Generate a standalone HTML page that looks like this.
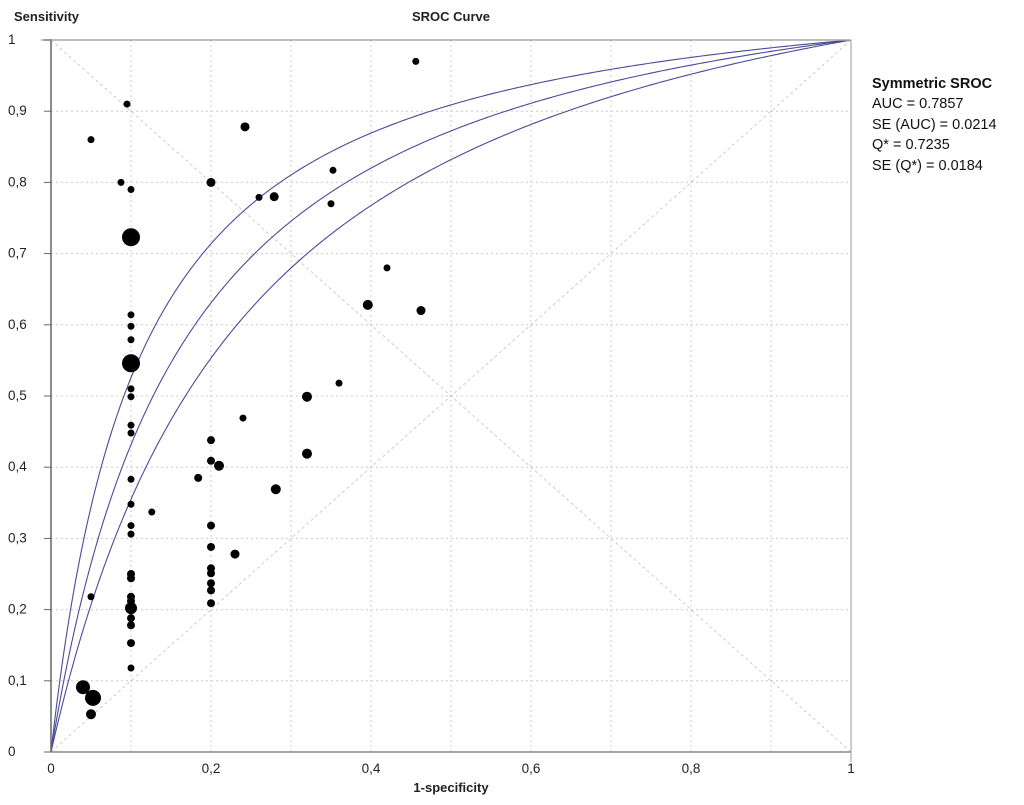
<!DOCTYPE html>
<html><head><meta charset="utf-8">
<style>
body{margin:0;background:#fff;width:1024px;height:805px;overflow:hidden;font-family:"Liberation Sans",Arial,sans-serif}
svg{display:block}
</style></head>
<body>
<svg id="chart" width="1024" height="805" xmlns="http://www.w3.org/2000/svg">
<text x="14" y="21" font-size="13" font-weight="bold" fill="#222">Sensitivity</text>
<text x="451" y="21" font-size="13" font-weight="bold" fill="#222" text-anchor="middle">SROC Curve</text>
<text x="451" y="792" font-size="13" font-weight="bold" fill="#222" text-anchor="middle">1-specificity</text>
<g font-family="'Liberation Sans',Calibri,sans-serif" font-size="14.5" fill="#111">
<text x="872" y="88" font-weight="bold">Symmetric SROC</text>
<text x="872" y="108">AUC = 0.7857</text>
<text x="872" y="129">SE (AUC) = 0.0214</text>
<text x="872" y="149">Q* = 0.7235</text>
<text x="872" y="170">SE (Q*) = 0.0184</text>
</g>
<g id="grid"></g>
<g id="curves"></g>
<g id="points"></g>
<g id="axes"></g>
</svg>
<script>
const xTicks=[0,0.2,0.4,0.6,0.8,1];
const xTickLabels=["0","0,2","0,4","0,6","0,8","1"];
const yTicks=[0,0.1,0.2,0.3,0.4,0.5,0.6,0.7,0.8,0.9,1];
const yTickLabels=["0","0,1","0,2","0,3","0,4","0,5","0,6","0,7","0,8","0,9","1"];
const curveA=[2.3,1.922,1.6];
const ptX=[0.095,0.05,0.0875,0.1,0.2,0.1,0.1,0.1,0.1,0.1,0.1,0.1,0.1,0.1,0.1,0.1,0.126,0.1,0.1,0.1,0.1,0.1,0.1,0.1,0.1,0.1,0.1,0.1,0.05,0.04,0.0525,0.05,0.2,0.2,0.21,0.184,0.24,0.281,0.2,0.2,0.23,0.2,0.2,0.2,0.2,0.2,0.456,0.2425,0.3525,0.26,0.279,0.35,0.42,0.396,0.4625,0.36,0.32,0.32];
const ptY=[0.91,0.86,0.80,0.79,0.80,0.723,0.614,0.598,0.579,0.546,0.51,0.499,0.459,0.448,0.383,0.348,0.337,0.318,0.306,0.25,0.244,0.218,0.212,0.202,0.188,0.178,0.153,0.118,0.218,0.091,0.076,0.053,0.438,0.409,0.402,0.385,0.469,0.369,0.318,0.288,0.278,0.258,0.251,0.237,0.227,0.209,0.97,0.878,0.817,0.779,0.78,0.77,0.68,0.628,0.62,0.518,0.499,0.419];
const ptR=[3.5,3.5,3.5,3.5,4.5,9,3.5,3.5,3.5,9,3.5,3.5,3.5,3.5,3.5,3.5,3.5,3.5,3.5,4,4,4,4,6,4,4,4,3.5,3.5,7,8,5,4,4,5,4,3.5,5,4,4,4.5,4,4,4,4,4,3.5,4.5,3.5,3.5,4.5,3.5,3.5,5,4.5,3.5,5,5];
const X0=51,X1=851,Y0=752,Y1=40;
const sx=v=>X0+v*(X1-X0), sy=v=>Y0-v*(Y0-Y1);
const NS="http://www.w3.org/2000/svg";
function mk(parent,tag,attrs){const e=document.createElementNS(NS,tag);for(const k in attrs)e.setAttribute(k,attrs[k]);document.getElementById(parent).appendChild(e);return e;}
for(let i=1;i<10;i++){
  let v=i/10;
  let g=mk('grid','line',{x1:sx(v),x2:sx(v),y1:Y1,y2:Y0,stroke:'#ccc','stroke-dasharray':'2,3','stroke-width':1});
  
  
  let h=mk('grid','line',{x1:X0,x2:X1,y1:sy(v),y2:sy(v),stroke:'#ccc','stroke-dasharray':'2,3','stroke-width':1});
  
  
}
let d1=mk('grid','line',{x1:sx(0),y1:sy(0),x2:sx(1),y2:sy(1),stroke:'#ccc','stroke-dasharray':'3,3'});


let d2=mk('grid','line',{x1:sx(0),y1:sy(1),x2:sx(1),y2:sy(0),stroke:'#ccc','stroke-dasharray':'3,3'});


curveA.forEach((a,ci)=>{
  let pts=[];
  for(let i=0;i<=400;i++){
    let f=Math.pow(i/400,2);
    let t;
    if(f<=0)t=0;else if(f>=1)t=1;else{let l=Math.log(f/(1-f))+a;t=1/(1+Math.exp(-l));}
    pts.push(sx(f).toFixed(2)+','+sy(t).toFixed(2));
  }
  let p=mk('curves','polyline',{points:pts.join(' '),fill:'none',stroke:'#4a4a9a','stroke-width':1.1});
  
  
});
ptX.forEach((x,i)=>{
  let c=mk('points','circle',{cx:sx(x),cy:sy(ptY[i]),r:ptR[i],fill:'#000'});
  
  
});
let ax=mk('axes','line',{x1:X0,y1:Y1-1,x2:X0,y2:Y0,stroke:'#666','stroke-width':1.5});


let bx=mk('axes','line',{x1:X0,y1:Y0,x2:X1,y2:Y0,stroke:'#888','stroke-width':1.5});


let tx=mk('axes','line',{x1:X0-10,y1:Y1,x2:X1,y2:Y1,stroke:'#aaa','stroke-width':1.5});


let rx=mk('axes','line',{x1:X1,y1:Y1,x2:X1,y2:Y0+10,stroke:'#aaa','stroke-width':1.2});


xTicks.forEach((v,i)=>{
  let t=mk('axes','text',{x:sx(v),y:Y0+21,'font-size':13.5,fill:'#222','text-anchor':'middle'});
  t.textContent=xTickLabels[i];
  
  
});
yTicks.forEach((v,i)=>{
  let tk=mk('axes','line',{x1:X0-7,x2:X0,y1:sy(v),y2:sy(v),stroke:'#666'});
  
  
  let t=mk('axes','text',{x:8,y:sy(v)+4,'font-size':13.5,fill:'#222'});
  t.textContent=yTickLabels[i];
  
  
});
</script>
</body></html>
